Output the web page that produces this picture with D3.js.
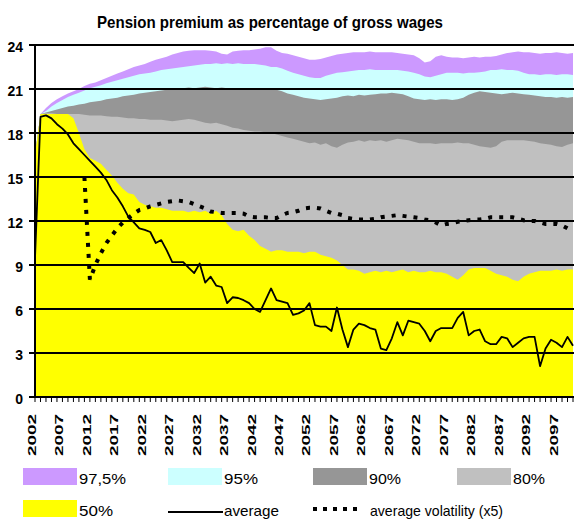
<!DOCTYPE html>
<html>
<head>
<meta charset="utf-8">
<script src="https://cdn.jsdelivr.net/npm/d3@7"></script>
<style>
  body { margin: 0; background: #fff; }
  svg { display: block; }
  text { font-family: "Liberation Sans", Arial, sans-serif; fill: #000; }
</style>
</head>
<body>
<div id="chart"></div>
<script>
// categories
var years = d3.range(2002, 2101);
var tickYears = years.filter(function (y) { return (y - 2002) % 5 === 0; });
var yTicks = [0, 3, 6, 9, 12, 15, 18, 21, 24];

// quantiles of the premium (% of gross wages), one value per year
var p975 = [
  16.5, 19.3, 19.7, 20.05, 20.3, 20.5, 20.7, 20.85, 21.0, 21.2,
  21.35, 21.45, 21.6, 21.75, 21.9, 22.05, 22.2, 22.35, 22.5, 22.6,
  22.7, 22.85, 23.0, 23.1, 23.2, 23.35, 23.45, 23.55, 23.6, 23.65,
  23.65, 23.65, 23.6, 23.55, 23.4, 23.35, 23.55, 23.6, 23.65, 23.65,
  23.7, 23.75, 23.85, 23.85, 23.6, 23.45, 23.4, 23.3, 23.2, 23.1,
  23.0, 23.0, 23.05, 23.15, 23.25, 23.35, 23.4, 23.45, 23.5, 23.5,
  23.5, 23.55, 23.5, 23.5, 23.5, 23.5, 23.45, 23.4, 23.35, 23.3,
  23.1, 22.8, 22.9, 23.2, 23.3, 23.2, 23.15, 23.15, 23.1, 23.15,
  23.2, 23.15, 23.2, 23.2, 23.25, 23.35, 23.45, 23.5, 23.55, 23.5,
  23.5, 23.45, 23.4, 23.45, 23.45, 23.5, 23.45, 23.4, 23.45
];
var p95 = [
  16.5, 19.3, 19.5, 19.8, 20.05, 20.25, 20.45, 20.6, 20.75, 20.9,
  21.05, 21.15, 21.25, 21.4, 21.5, 21.6, 21.7, 21.8, 21.9, 22.0,
  22.05, 22.1, 22.2, 22.3, 22.35, 22.4, 22.45, 22.5, 22.55, 22.6,
  22.65, 22.7, 22.7, 22.75, 22.7, 22.75, 22.7, 22.75, 22.7, 22.7,
  22.7, 22.65, 22.6, 22.5, 22.5, 22.4, 22.25, 22.1, 22.0, 21.9,
  21.8, 21.75, 21.75, 21.9, 22.0, 22.1, 22.15, 22.2, 22.25, 22.3,
  22.3, 22.35, 22.3, 22.3, 22.3, 22.3, 22.3, 22.25, 22.2, 22.1,
  22.0, 21.85, 21.8, 21.9, 22.0, 22.1, 22.1, 22.1, 22.05, 22.1,
  22.1, 22.15, 22.2, 22.3, 22.3, 22.35, 22.3, 22.3, 22.25, 22.1,
  22.0, 22.0, 21.95, 22.0, 22.0, 21.95, 22.0, 22.0, 21.95
];
var p90 = [
  16.5, 19.3, 19.4, 19.5, 19.6, 19.7, 19.8, 19.85, 19.95, 20.0,
  20.1, 20.15, 20.2, 20.3, 20.35, 20.4, 20.5, 20.55, 20.6, 20.7,
  20.75, 20.8, 20.85, 20.9, 20.95, 21.0, 21.05, 21.05, 21.1, 21.05,
  21.1, 21.15, 21.1, 21.05, 21.1, 21.05, 21.0, 21.05, 21.0, 21.0,
  21.05, 21.0, 21.0, 21.0, 20.95, 20.85, 20.7, 20.6, 20.5, 20.4,
  20.35, 20.3, 20.25, 20.3, 20.35, 20.4, 20.5, 20.55, 20.5, 20.6,
  20.55, 20.6, 20.65, 20.7, 20.7, 20.75, 20.7, 20.65, 20.5, 20.35,
  20.3, 20.25, 20.3, 20.25, 20.3, 20.3, 20.25, 20.3, 20.4, 20.6,
  20.75, 20.85, 20.8, 20.75, 20.7, 20.65, 20.7, 20.75, 20.7, 20.65,
  20.6, 20.55, 20.5, 20.45, 20.45, 20.4, 20.45, 20.4, 20.45
];
var p80 = [
  16.5, 19.3, 19.35, 19.35, 19.3, 19.3, 19.3, 19.3, 19.3, 19.25,
  19.2, 19.2, 19.2, 19.15, 19.1, 19.1, 19.05, 19.0, 19.0, 18.95,
  18.95, 18.9, 18.9, 18.9, 18.85, 18.8, 18.85, 18.9, 18.95, 18.9,
  18.8, 18.7, 18.65, 18.7, 18.6, 18.5, 18.35, 18.3, 18.2, 18.15,
  18.1, 18.1, 18.05, 18.0, 17.9, 17.8, 17.7, 17.6, 17.5, 17.4,
  17.3, 17.35, 17.2, 17.3, 17.1, 17.0, 17.2, 17.35, 17.4, 17.5,
  17.4, 17.5, 17.45, 17.5, 17.4, 17.5, 17.6, 17.55, 17.5, 17.4,
  17.3, 17.3, 17.3, 17.25, 17.3, 17.3, 17.3, 17.35, 17.3, 17.3,
  17.2, 17.1, 17.05, 17.0, 17.1, 17.4, 17.5, 17.5, 17.5, 17.5,
  17.45, 17.4, 17.3, 17.25, 17.2, 17.1, 17.05, 17.2, 17.3
];
var p50 = [
  16.5, 19.3, 19.3, 19.3, 19.3, 19.3, 19.3, 19.0, 18.0, 16.9,
  16.3, 16.1, 15.9, 15.5, 15.1, 14.6, 14.2, 13.9, 13.8, 13.3,
  13.1, 13.0, 12.9, 12.9, 12.8, 12.7, 12.7, 12.7, 12.6, 12.7,
  12.6, 12.7, 12.5, 12.7, 12.4, 11.8, 11.4, 11.3, 11.4, 11.0,
  10.7, 10.3, 10.1, 9.9, 10.0, 10.0, 9.9, 9.9, 9.9, 9.8,
  9.9, 9.9, 9.7, 9.6, 9.5, 9.3, 9.0, 8.7, 8.7, 8.6,
  8.4, 8.5, 8.6, 8.5, 8.6, 8.5, 8.6, 8.7, 8.5, 8.6,
  8.5, 8.5, 8.6, 8.5, 8.5, 8.4, 8.2, 8.0, 8.3, 8.7,
  8.8, 8.8, 8.8, 8.6, 8.4, 8.3, 8.2, 8.0, 7.9, 8.2,
  8.4, 8.5, 8.6, 8.6, 8.6, 8.7, 8.6, 8.7, 8.7
];
var average = [
  9.5, 19.1, 19.2, 19.0, 18.6, 18.3, 17.9, 17.3, 16.9, 16.5,
  16.1, 15.7, 15.3, 14.8, 14.1, 13.6, 13.0, 12.3, 11.9, 11.5,
  11.4, 11.25, 10.5, 10.7, 10.0, 9.2, 9.2, 9.2, 8.8, 8.45,
  9.1, 7.8, 8.2, 7.6, 7.5, 6.4, 6.8, 6.75, 6.6, 6.4,
  6.0, 5.8, 6.6, 7.4, 6.6, 6.5, 6.4, 5.6, 5.7, 5.9,
  6.4, 4.9, 4.8, 4.8, 4.5, 6.1, 4.6, 3.4, 4.6, 5.0,
  4.9, 4.7, 4.6, 3.3, 3.2, 4.0, 5.1, 4.2, 5.2, 5.1,
  5.0, 4.5, 3.8, 4.5, 4.7, 4.7, 4.7, 5.4, 5.8, 4.2,
  4.5, 4.6, 3.8, 3.6, 3.6, 4.1, 4.0, 3.4, 3.7, 4.0,
  4.1, 4.1, 2.1, 3.3, 3.9, 3.7, 3.4, 4.1, 3.5
];
// average volatility times 5, starts in 2011
var volatility = [
  null, null, null, null, null, null, null, null, null, 15.0,
  8.0, 9.0, 9.8, 10.5, 11.0, 11.5, 11.9, 12.2, 12.5, 12.75,
  12.85, 13.0, 13.1, 13.2, 13.3, 13.35, 13.4, 13.35, 13.3, 13.15,
  13.0, 12.85, 12.65, 12.6, 12.55, 12.55, 12.55, 12.55, 12.5, 12.3,
  12.25, 12.25, 12.25, 12.2, 12.2, 12.4, 12.55, 12.6, 12.7, 12.85,
  12.9, 12.9, 12.85, 12.7, 12.55, 12.5, 12.4, 12.2, 12.15, 12.1,
  12.1, 12.1, 12.15, 12.25, 12.3, 12.35, 12.4, 12.35, 12.3, 12.25,
  12.2, 12.1, 12.05, 11.9, 11.7, 11.8, 11.85, 11.95, 12.0, 12.05,
  12.1, 12.1, 12.15, 12.25, 12.25, 12.25, 12.25, 12.25, 12.15, 12.05,
  12.0, 12.0, 11.9, 11.8, 11.8, 11.8, 11.7, 11.5, 11.45
];

var bands = [
  { name: "97,5%", values: p975, color: "#cc99ff" },
  { name: "95%", values: p95, color: "#ccffff" },
  { name: "90%", values: p90, color: "#969696" },
  { name: "80%", values: p80, color: "#c0c0c0" },
  { name: "50%", values: p50, color: "#ffff00" }
];

var width = 574, height = 520;

var svg = d3.select("#chart")
    .append("svg")
    .attr("width", width)
    .attr("height", height);

var x = d3.scalePoint().domain(years).range([35, 573]);
var y = d3.scaleLinear().domain([0, 24]).range([397, 45]);

svg.append("text")
    .attr("x", 270)
    .attr("y", 28)
    .attr("text-anchor", "middle")
    .attr("font-size", 17)
    .attr("font-weight", "bold")
    .attr("textLength", 346)
    .attr("lengthAdjust", "spacingAndGlyphs")
    .text("Pension premium as percentage of gross wages");

var area = d3.area()
    .x(function (d, i) { return x(years[i]); })
    .y0(y(0))
    .y1(function (d) { return y(d); });

svg.selectAll(".band")
    .data(bands)
    .enter().append("path")
    .attr("class", "band")
    .attr("fill", function (d) { return d.color; })
    .attr("d", function (d) { return area(d.values); });

// gridlines with ticks on the left
svg.selectAll(".grid")
    .data(yTicks)
    .enter().append("line")
    .attr("class", "grid")
    .attr("x1", 29)
    .attr("x2", width)
    .attr("y1", function (d) { return y(d); })
    .attr("y2", function (d) { return y(d); })
    .attr("stroke", "#000")
    .attr("stroke-width", 2);

svg.selectAll(".ylab")
    .data(yTicks)
    .enter().append("text")
    .attr("class", "ylab")
    .attr("x", 23)
    .attr("y", function (d) { return y(d) + 2; })
    .attr("dy", "0.35em")
    .attr("text-anchor", "end")
    .attr("font-size", 14)
    .attr("font-weight", "bold")
    .text(function (d) { return d; });

svg.append("line")
    .attr("x1", 35).attr("x2", 35)
    .attr("y1", y(24) - 1).attr("y2", y(0) + 1)
    .attr("stroke", "#000")
    .attr("stroke-width", 2);

svg.selectAll(".xtick")
    .data(years)
    .enter().append("line")
    .attr("class", "xtick")
    .attr("x1", function (d) { return x(d); })
    .attr("x2", function (d) { return x(d); })
    .attr("y1", y(0))
    .attr("y2", y(0) + 5)
    .attr("stroke", "#000")
    .attr("stroke-width", 1);

svg.selectAll(".xlab")
    .data(tickYears)
    .enter().append("text")
    .attr("class", "xlab")
    .attr("transform", function (d) { return "translate(" + (x(d) + 1) + ",414) rotate(-90)"; })
    .attr("text-anchor", "end")
    .attr("font-size", 11)
    .attr("font-weight", "bold")
    .attr("textLength", 42)
    .attr("lengthAdjust", "spacingAndGlyphs")
    .text(function (d) { return d; });

var line = d3.line()
    .defined(function (d) { return d !== null; })
    .x(function (d, i) { return x(years[i]); })
    .y(function (d) { return y(d); });

svg.append("path")
    .attr("d", line(volatility))
    .attr("fill", "none")
    .attr("stroke", "#000")
    .attr("stroke-width", 4)
    .attr("stroke-dasharray", "4,7");

svg.append("path")
    .attr("d", line(average))
    .attr("fill", "none")
    .attr("stroke", "#000")
    .attr("stroke-width", 1.8)
    .attr("stroke-linejoin", "round");

// legend
var legendItems = [
  { label: "97,5%", type: "box", color: "#cc99ff", x: 23, row: 0, w: 47 },
  { label: "95%", type: "box", color: "#ccffff", x: 168, row: 0, w: 34 },
  { label: "90%", type: "box", color: "#969696", x: 313, row: 0, w: 32 },
  { label: "80%", type: "box", color: "#c0c0c0", x: 457, row: 0, w: 32 },
  { label: "50%", type: "box", color: "#ffff00", x: 23, row: 1, w: 34 },
  { label: "average", type: "line", x: 168, row: 1, w: 55 },
  { label: "average volatility (x5)", type: "dots", x: 313, row: 1, w: 133 }
];

var legend = svg.selectAll(".legend")
    .data(legendItems)
    .enter().append("g")
    .attr("class", "legend")
    .attr("transform", function (d) { return "translate(" + d.x + "," + (468 + d.row * 32) + ")"; });

legend.filter(function (d) { return d.type === "box"; })
    .append("rect")
    .attr("width", 54)
    .attr("height", 17)
    .attr("fill", function (d) { return d.color; });

legend.filter(function (d) { return d.type === "line"; })
    .append("line")
    .attr("x1", 0).attr("x2", 55)
    .attr("y1", 12).attr("y2", 12)
    .attr("stroke", "#000")
    .attr("stroke-width", 2);

legend.filter(function (d) { return d.type === "dots"; })
    .append("line")
    .attr("x1", 0).attr("x2", 50)
    .attr("y1", 9).attr("y2", 9)
    .attr("stroke", "#000")
    .attr("stroke-width", 4)
    .attr("stroke-dasharray", "4,6");

legend.append("text")
    .attr("x", function (d) { return d.type === "dots" ? 57 : 56; })
    .attr("y", 16)
    .attr("font-size", 15)
    .attr("textLength", function (d) { return d.w; })
    .attr("lengthAdjust", "spacingAndGlyphs")
    .text(function (d) { return d.label; });
</script>
</body>
</html>
